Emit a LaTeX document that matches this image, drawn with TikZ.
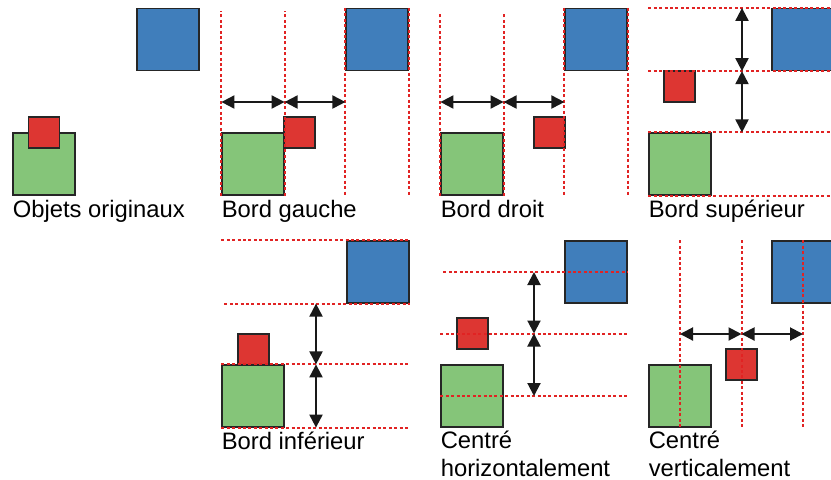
\documentclass[tikz,border=0pt]{standalone}
\usepackage{fontspec}
\setmainfont{Liberation Sans}
\usetikzlibrary{positioning, arrows.meta}
\definecolor{grnclr}  {RGB}{133,197,121}
\definecolor{bluclr}  {RGB}{64,126,187}
\definecolor{redclr}  {RGB}{221,54,50}
\definecolor{guideclr}{RGB}{225,35,35}

\begin{document}
\begin{tikzpicture}[
    x=0.5pt, y=-0.5pt,
    font=\fontsize{11.9}{14}\selectfont,
    sq/.style      ={draw=black!85, line width=0.6pt, inner sep=0pt},
    bigsq/.style   ={sq, minimum size=31pt},
    smallsq/.style ={sq, minimum size=15.5pt},
    grn/.style     ={bigsq, fill=grnclr},
    blu/.style     ={bigsq, fill=bluclr},
    rd/.style      ={smallsq, fill=redclr},
    guide/.style   ={guideclr, line width=1pt, dash pattern=on 1.5pt off 1.2pt},
    dimarr/.style  ={{Triangle[length=6.5pt,width=6.5pt]}-{Triangle[length=6.5pt,width=6.5pt]},
                     line width=1pt, black!90},
    lbl/.style     ={anchor=base west, align=left, inner sep=0pt},
]
\useasboundingbox (0,0) rectangle (831,479);

% =============== Objets originaux ===============
\node[grn] (g1) at (44,164) {};
\node[rd]  (r1) at (44,132.5) {};
\node[blu] (b1) at (168,39.5) {};
\node[lbl] (t1) at ([yshift=-11pt]g1.south west) {Objets originaux};

% =============== Bord gauche ===============
\node[grn] (g2) at (253,164) {};
\node[rd]  (r2) at (299.5,132.5) {};
\node[blu] (b2) at (377,39.5) {};
\foreach \a in {south west, south east}
  \draw[guide] (g2.\a) -- ++(0,-185);
\foreach \a in {west, east}
  \draw[guide] (b2.north \a) -- (b2.north \a |- g2.south);
\coordinate (yA) at (0,102);
\draw[dimarr] (g2.west |- yA) -- (g2.east |- yA);
\draw[dimarr] (g2.east |- yA) -- (b2.west |- yA);
\node[lbl] (t2) at ([yshift=-11pt]g2.south west) {Bord gauche};

% =============== Bord droit ===============
\node[grn] (g3) at (472,164) {};
\node[rd]  (r3) at (549.5,132.5) {};
\node[blu] (b3) at (596,39.5) {};
\foreach \a in {south west, south east}
  \draw[guide] (g3.\a) -- ++(0,-183);
\foreach \a in {west, east}
  \draw[guide] (b3.north \a) -- (b3.north \a |- g3.south);
\draw[dimarr] (g3.west |- yA) -- (g3.east |- yA);
\draw[dimarr] (g3.east |- yA) -- (b3.west |- yA);
\node[lbl] (t3) at ([yshift=-11pt]g3.south west) {Bord droit};

% =============== Bord supérieur ===============
\node[grn] (g4) at (680,164) {};
\node[rd]  (r4) at (679.5,86.5) {};
\node[blu] (b4) at (803,39.5) {};
\coordinate (xR) at (831,0);
\draw[guide] (g4.west |- b4.north) -- (b4.north -| xR);
\draw[guide] (g4.west |- b4.south) -- (b4.south -| xR);
\draw[guide] (g4.north west) -- (g4.north west -| xR);
\draw[guide] (g4.south west) -- (g4.south west -| xR);
\coordinate (x4) at (742,0);
\draw[dimarr] (x4 |- b4.north) -- (x4 |- b4.south);
\draw[dimarr] (x4 |- b4.south) -- (x4 |- g4.north);
\node[lbl] (t4) at ([yshift=-11pt]g4.south west) {Bord supérieur};

% =============== Bord inférieur ===============
\node[grn] (g5) at (253,396) {};
\node[rd]  (r5) at (253.5,349.5) {};
\node[blu] (b5) at (378,272) {};
\draw[guide] (g5.west |- b5.north) -- (b5.north east);
\draw[guide] ([xshift=1.5pt]g5.west |- b5.south) -- (b5.south east);
\draw[guide] (g5.north west) -- (g5.north west -| b5.east);
\draw[guide] (g5.south west) -- (g5.south west -| b5.east);
\coordinate (x5) at (316,0);
\draw[dimarr] (x5 |- b5.south) -- (x5 |- g5.north);
\draw[dimarr] (x5 |- g5.north) -- (x5 |- g5.south);
\node[lbl] (t5) at ([yshift=-11pt]g5.south west) {Bord inférieur};

% =============== Centré horizontalement ===============
\node[grn] (g6) at (472,396) {};
\node[rd]  (r6) at (472.5,333.5) {};
\node[blu] (b6) at (596,272) {};
\draw[guide] ([xshift=1.5pt]g6.west |- b6.center) -- (b6.east);
\draw[guide] (g6.west |- r6.center) -- (r6.center -| b6.east);
\draw[guide] (g6.west) -- (g6.west -| b6.east);
\coordinate (x6) at (534,0);
\draw[dimarr] (x6 |- b6.center) -- (x6 |- r6.center);
\draw[dimarr] (x6 |- r6.center) -- (x6 |- g6.center);
% base of a two-line label is its last line
\node[lbl] (t6) at ([yshift=-24.5pt]g6.south west) {Centré\\horizontalement};

% =============== Centré verticalement ===============
\node[grn] (g7) at (680,396) {};
\node[rd]  (r7) at (741.5,364.5) {};
\node[blu] (b7) at (803,272) {};
\draw[guide] (g7.center |- b7.north) -- (g7.south);
\draw[guide] (r7.center |- b7.north) -- (r7.center |- g7.south);
\draw[guide] (b7.north) -- (b7.north |- g7.south);
\coordinate (y7) at (0,334);
\draw[dimarr] (g7 |- y7) -- (r7 |- y7);
\draw[dimarr] (r7 |- y7) -- (b7 |- y7);
\node[lbl] (t7) at ([yshift=-24.5pt]g7.south west) {Centré\\verticalement};

\end{tikzpicture}
\end{document}
